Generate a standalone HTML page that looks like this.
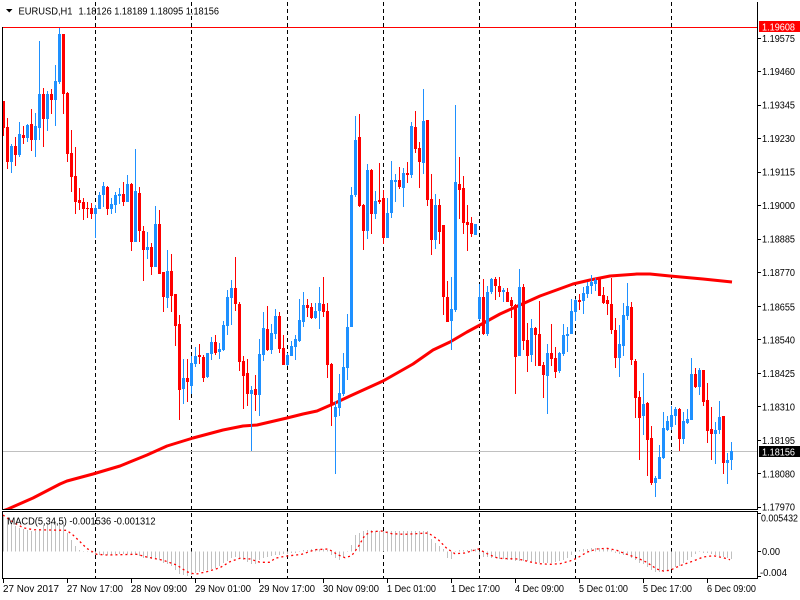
<!DOCTYPE html>
<html><head><meta charset="utf-8"><style>
html,body{margin:0;padding:0;background:#fff;width:800px;height:600px;overflow:hidden}
svg{display:block}
text{font-family:"Liberation Sans",Arial,sans-serif;font-size:10px;fill:#000}
</style></head><body>
<svg width="800" height="600" viewBox="0 0 800 600" xmlns="http://www.w3.org/2000/svg">
<defs>
<clipPath id="cm"><rect x="3" y="2" width="754" height="507"/></clipPath>
</defs>
<rect x="0" y="0" width="800" height="600" fill="#fff"/>

<!-- separators -->
<g stroke="#000" stroke-width="1" stroke-dasharray="4,3" shape-rendering="crispEdges">
<path d="M95.5,2V578M191.5,2V578M287.5,2V578M383.5,2V578M479.5,2V578M575.5,2V578M671.5,2V578"/>
</g>

<!-- horizontal lines -->
<path d="M2,27.5H757" stroke="#ff0000" stroke-width="1" shape-rendering="crispEdges"/>
<path d="M2,451.5H757" stroke="#c0c0c0" stroke-width="1" shape-rendering="crispEdges"/>

<!-- moving average -->
<polyline clip-path="url(#cm)" fill="none" stroke="#ff0000" stroke-width="3" stroke-linejoin="round" points="0,512 8,509 33,498 60,484 67,481 93,474 120,466 147,455 167,446 193,438 223,430 243,426 257,425 287,418 303,414 317,411 333,404 350,396 383,381 413,364 433,350 450,342 467,332 480,325 500,314 520,305 540,296 573,284 590,280 610,276 637,274 650,274 670,276 703,279 732,282"/>

<g shape-rendering="crispEdges" fill="none">
<!-- blue wicks -->
<path stroke="#1e90ff" stroke-width="1" d="M11.5,144V173M19.5,122V157M27.5,124V142M35.5,113V157M39.5,41V140M47.5,91V131M55.5,65V126M59.5,28V84M95.5,205V238M99.5,192V209M103.5,182V207M111.5,198V214M115.5,192V213M119.5,188V204M127.5,175V202M135.5,149V242M147.5,232V259M155.5,206V267M167.5,250V308M183.5,359V404M191.5,356V394M195.5,347V367M207.5,353V378M211.5,337V360M219.5,343V359M223.5,321V351M227.5,290V335M231.5,280V325M251.5,386V451M259.5,339V416M263.5,312V361M271.5,324V354M275.5,309V339M287.5,353V366M291.5,341V356M295.5,335V360M299.5,299V342M303.5,292V327M315.5,303V319M319.5,287V329M335.5,401V474M339.5,374V416M343.5,353V396M347.5,314V380M351.5,187V327M355.5,116V197M367.5,164V239M375.5,191V219M387.5,198V238M391.5,161V218M395.5,174V202M403.5,168V207M411.5,122V178M423.5,89V174M435.5,194V249M451.5,277V350M455.5,105V312M475.5,224V235M479.5,284V320M487.5,286V336M491.5,278V294M503.5,288V302M519.5,269V356M531.5,319V362M547.5,344V414M559.5,352V373M563.5,324V356M567.5,327V352M571.5,299V334M575.5,299V321M583.5,287V314M587.5,282V298M591.5,275V294M595.5,278V291M619.5,325V377M623.5,303V356M627.5,283V320M643.5,373V435M655.5,476V497M659.5,445V479M663.5,412V459M667.5,416V431M671.5,406V430M675.5,407V425M683.5,412V444M687.5,409V424M691.5,358V420M699.5,368V395M715.5,422V464M719.5,401V434M727.5,453V484M731.5,442V470"/>
<!-- blue bodies -->
<path stroke="#1e90ff" stroke-width="3" d="M11.5,146V162M19.5,134V155M27.5,125V138M35.5,126V140M39.5,94V128M47.5,94V119M55.5,81V100M59.5,34V82M95.5,208V214M99.5,195V209M103.5,186V195M111.5,204V209M115.5,195V205M119.5,194V196M127.5,184V202M135.5,191V242M147.5,247V250M155.5,224V267M167.5,271V298M183.5,378V389M191.5,363V386M195.5,356V364M207.5,353V377M211.5,342V354M219.5,349V352M223.5,325V350M227.5,297V326M231.5,288V298M251.5,390V394M259.5,354V395M263.5,328V355M271.5,333V350M275.5,316V334M287.5,355V365M291.5,346V356M295.5,339V347M299.5,320V341M303.5,305V322M315.5,311V318M319.5,303V311M335.5,407V417M339.5,393V408M343.5,367V394M347.5,327V368M351.5,195V327M355.5,140V195M367.5,170V231M375.5,201V214M387.5,213V238M391.5,180V213M395.5,180V182M403.5,173V188M411.5,126V175M423.5,121V163M435.5,205V240M451.5,309V321M455.5,182V310M475.5,224V235M479.5,297V319M487.5,292V334M491.5,279V292M503.5,290V292M519.5,287V356M531.5,328V355M547.5,353V376M559.5,353V371M563.5,335V354M567.5,334V336M571.5,311V334M575.5,300V312M583.5,293V301M587.5,286V294M591.5,282V286M595.5,280V284M619.5,344V358M623.5,315V346M627.5,306V316M643.5,404V416M655.5,478V483M659.5,457V479M663.5,428V458M667.5,421V430M671.5,415V427M675.5,409V416M683.5,421V439M687.5,419V423M691.5,374V420M699.5,370V387M715.5,430V434M719.5,417V430M727.5,460V463M731.5,451V460"/>
<!-- red wicks -->
<path stroke="#ff0000" stroke-width="1" d="M3.5,101V136M7.5,118V169M15.5,137V166M23.5,126V144M31.5,109V151M43.5,88V147M51.5,89V114M63.5,34V114M67.5,92V162M71.5,130V192M75.5,147V214M79.5,188V210M83.5,198V220M87.5,202V218M91.5,203V219M107.5,186V215M123.5,182V206M131.5,183V251M139.5,187V242M143.5,226V281M151.5,243V275M159.5,210V274M163.5,272V312M171.5,254V312M175.5,294V346M179.5,315V420M187.5,359V402M199.5,344V364M203.5,355V382M215.5,335V355M235.5,257V311M239.5,302V371M243.5,356V409M247.5,359V406M255.5,375V411M267.5,306V351M279.5,312V353M283.5,335V365M307.5,299V317M311.5,303V319M323.5,277V317M327.5,303V378M331.5,363V426M359.5,114V207M363.5,204V250M371.5,169V234M379.5,163V204M383.5,190V244M399.5,167V189M407.5,162V183M415.5,111V153M419.5,142V188M427.5,120V206M431.5,174V255M439.5,199V244M443.5,225V315M447.5,281V322M459.5,157V219M463.5,176V234M467.5,205V251M471.5,217V237M483.5,279V335M495.5,277V300M499.5,277V297M507.5,288V302M511.5,297V318M515.5,304V394M523.5,284V350M527.5,323V372M535.5,327V366M539.5,301V366M543.5,362V398M551.5,324V366M555.5,347V378M579.5,294V310M599.5,277V296M603.5,287V304M607.5,296V315M611.5,278V334M615.5,318V368M631.5,302V365M635.5,359V418M639.5,391V460M647.5,402V476M651.5,426V485M679.5,408V451M695.5,368V388M703.5,370V406M707.5,383V443M711.5,407V460M723.5,416V474"/>
<!-- red bodies -->
<path stroke="#ff0000" stroke-width="3" d="M3.5,101V128M7.5,127V162M15.5,146V155M23.5,135V138M31.5,124V140M43.5,94V119M51.5,94V100M63.5,34V94M67.5,93V154M71.5,153V177M75.5,176V202M79.5,200V203M83.5,202V209M87.5,208V209M91.5,208V214M107.5,187V209M123.5,194V202M131.5,184V242M139.5,193V231M143.5,231V250M151.5,247V267M159.5,224V274M163.5,272V297M171.5,271V296M175.5,294V326M179.5,324V390M187.5,378V382M199.5,355V357M203.5,357V378M215.5,342V353M235.5,288V304M239.5,304V362M243.5,361V376M247.5,373V394M255.5,389V395M267.5,329V350M279.5,316V349M283.5,348V365M307.5,305V308M311.5,307V318M323.5,304V312M327.5,311V365M331.5,364V405M359.5,137V206M363.5,205V231M371.5,170V214M379.5,200V202M383.5,198V238M399.5,180V187M407.5,173V175M415.5,127V149M419.5,148V162M427.5,120V200M431.5,199V240M439.5,205V232M443.5,225V297M447.5,297V322M459.5,184V190M463.5,188V223M467.5,222V225M471.5,223V234M483.5,297V334M495.5,279V286M499.5,286V292M507.5,292V302M511.5,300V306M515.5,305V357M523.5,287V341M527.5,340V356M535.5,328V335M539.5,334V366M543.5,365V375M551.5,353V359M555.5,358V372M579.5,300V302M599.5,278V296M603.5,295V303M607.5,300V304M611.5,304V330M615.5,330V358M631.5,307V360M635.5,361V398M639.5,397V418M647.5,403V440M651.5,438V483M679.5,409V439M695.5,374V387M703.5,370V402M707.5,400V431M711.5,429V434M723.5,416V463"/>

<!-- MACD histogram -->
<path stroke="#c0c0c0" stroke-width="1" d="M3.5,551.5V515M7.5,551.5V518M11.5,551.5V525M15.5,551.5V526M19.5,551.5V528M23.5,551.5V529M27.5,551.5V530M31.5,551.5V531M35.5,551.5V531M39.5,551.5V529M43.5,551.5V525M47.5,551.5V523M51.5,551.5V522M55.5,551.5V521M59.5,551.5V520M63.5,551.5V522M67.5,551.5V533M71.5,551.5V540M75.5,551.5V546M79.5,551.5V550M83.5,551.5V551M87.5,551.5V552M91.5,551.5V553M95.5,551.5V555M99.5,551.5V555M103.5,551.5V555M107.5,551.5V555M111.5,551.5V555M115.5,551.5V554M119.5,551.5V554M123.5,551.5V554M127.5,551.5V554M131.5,551.5V555M135.5,551.5V555M139.5,551.5V556M143.5,551.5V558M147.5,551.5V558M151.5,551.5V559M155.5,551.5V559M159.5,551.5V560M163.5,551.5V563M167.5,551.5V564M171.5,551.5V566M175.5,551.5V570M179.5,551.5V574M183.5,551.5V575M187.5,551.5V576M191.5,551.5V575M195.5,551.5V573M199.5,551.5V572M203.5,551.5V571M207.5,551.5V570M211.5,551.5V569M215.5,551.5V568M219.5,551.5V566M223.5,551.5V563M227.5,551.5V561M231.5,551.5V558M235.5,551.5V557M239.5,551.5V558M243.5,551.5V560M247.5,551.5V562M251.5,551.5V564M255.5,551.5V564M259.5,551.5V560M263.5,551.5V558M267.5,551.5V557M271.5,551.5V556M275.5,551.5V555M279.5,551.5V555M283.5,551.5V554M287.5,551.5V554M291.5,551.5V553M295.5,551.5V553M299.5,551.5V552M303.5,551.5V550M307.5,551.5V550M311.5,551.5V549M315.5,551.5V549M319.5,551.5V549M323.5,551.5V549M327.5,551.5V550M331.5,551.5V555M335.5,551.5V558M339.5,551.5V560M343.5,551.5V557M347.5,551.5V552M351.5,551.5V545M355.5,551.5V535M359.5,551.5V533M363.5,551.5V531M367.5,551.5V530M371.5,551.5V530M375.5,551.5V531M379.5,551.5V531M383.5,551.5V531M387.5,551.5V531M391.5,551.5V531M395.5,551.5V531M399.5,551.5V531M403.5,551.5V531M407.5,551.5V531M411.5,551.5V531M415.5,551.5V531M419.5,551.5V531M423.5,551.5V531M427.5,551.5V531M431.5,551.5V539M435.5,551.5V543M439.5,551.5V546M443.5,551.5V549M447.5,551.5V558M451.5,551.5V559M455.5,551.5V551M459.5,551.5V550M463.5,551.5V550M467.5,551.5V550M471.5,551.5V549M475.5,551.5V549M479.5,551.5V555M483.5,551.5V557M487.5,551.5V557M491.5,551.5V558M495.5,551.5V558M499.5,551.5V559M503.5,551.5V559M507.5,551.5V560M511.5,551.5V560M515.5,551.5V561M519.5,551.5V561M523.5,551.5V561M527.5,551.5V561M531.5,551.5V562M535.5,551.5V562M539.5,551.5V563M543.5,551.5V563M547.5,551.5V563M551.5,551.5V563M555.5,551.5V562M559.5,551.5V561M563.5,551.5V560M567.5,551.5V558M571.5,551.5V555M575.5,551.5V552M579.5,551.5V550M583.5,551.5V549M587.5,551.5V549M591.5,551.5V548M595.5,551.5V548M599.5,551.5V548M603.5,551.5V549M607.5,551.5V549M611.5,551.5V550M615.5,551.5V553M619.5,551.5V554M623.5,551.5V555M627.5,551.5V555M631.5,551.5V558M635.5,551.5V560M639.5,551.5V563M643.5,551.5V564M647.5,551.5V567M651.5,551.5V570M655.5,551.5V572M659.5,551.5V572M663.5,551.5V572M667.5,551.5V571M671.5,551.5V569M675.5,551.5V567M679.5,551.5V566M683.5,551.5V563M687.5,551.5V560M691.5,551.5V557M695.5,551.5V554M699.5,551.5V551M703.5,551.5V553M707.5,551.5V553M711.5,551.5V554M715.5,551.5V555M719.5,551.5V556M723.5,551.5V557M727.5,551.5V558M731.5,551.5V559"/>
</g>

<!-- MACD signal dotted -->
<polyline fill="none" stroke="#ff0000" stroke-width="1.3" stroke-dasharray="2,3" points="3,515 13,522 23,527.7 33,529.7 66.7,530.3 73,535 80,541.7 86.7,548.3 96.7,554.3 106.7,555 136.7,554.3 146.7,557 163.3,560.3 176.7,565 186.7,571.7 195.3,574.3 206.7,571.7 220,567.7 230,561.7 240,558.3 250,559 260,562.3 270,562.3 275,558.3 285,556.3 301.7,554.3 315,549.7 328.3,549 338.3,555 345,557.7 351.7,555.7 358.3,546.7 365,535 371.7,531.7 381.7,531 391.7,533.7 405,534.3 428.3,533 438.3,539.7 446.7,548.3 455,553.7 465,553 478.3,549 488.3,554.3 498.3,558.3 518.3,559 531.7,562.3 540,563.7 550,564.3 560,563.7 570,561 576.7,558.3 586.7,552.3 596.7,549 606.7,548.3 616.7,550.3 626.7,554.3 636.7,557.7 646.7,562.3 656.7,569 663.3,571 670,570.3 680,565.7 693.3,561 703.3,557 713.3,555.7 723.3,557.7 730,559.7"/>

<!-- frames -->
<g stroke="#000" stroke-width="1" fill="none" shape-rendering="crispEdges">
<path d="M2.5,27V509.5H757.5V2"/>
<path d="M2.5,511.5H757.5V578.5H2.5Z"/>
<!-- price ticks -->
<path d="M757,38.5H761M757,71.5H761M757,105.5H761M757,138.5H761M757,172.5H761M757,205.5H761M757,239.5H761M757,272.5H761M757,306.5H761M757,339.5H761M757,373.5H761M757,406.5H761M757,440.5H761M757,473.5H761M757,507.5H761"/>
<path d="M757,513.5H761M757,551.5H761M757,576.5H761"/>
<!-- time ticks -->
<path d="M3.5,579V583M67.5,579V583M131.5,579V583M195.5,579V583M259.5,579V583M323.5,579V583M387.5,579V583M451.5,579V583M515.5,579V583M579.5,579V583M643.5,579V583M707.5,579V583"/>
</g>

<!-- title -->
<path d="M6,9H12.5L9.25,12.5Z" fill="#000"/>
<text x="18.5" y="14.5" textLength="54" lengthAdjust="spacingAndGlyphs">EURUSD,H1</text>
<text x="78.5" y="14.5" textLength="140.5" lengthAdjust="spacingAndGlyphs">1.18126 1.18189 1.18095 1.18156</text>

<!-- MACD label -->
<text x="7.5" y="524.5" textLength="148" lengthAdjust="spacingAndGlyphs">MACD(5,34,5) -0.001536 -0.001312</text>

<!-- price labels -->
<g>
<text x="762" y="42" textLength="33" lengthAdjust="spacingAndGlyphs">1.19575</text>
<text x="762" y="75" textLength="33" lengthAdjust="spacingAndGlyphs">1.19460</text>
<text x="762" y="108.5" textLength="33" lengthAdjust="spacingAndGlyphs">1.19345</text>
<text x="762" y="142" textLength="33" lengthAdjust="spacingAndGlyphs">1.19230</text>
<text x="762" y="175.5" textLength="33" lengthAdjust="spacingAndGlyphs">1.19115</text>
<text x="762" y="209" textLength="33" lengthAdjust="spacingAndGlyphs">1.19000</text>
<text x="762" y="242.5" textLength="33" lengthAdjust="spacingAndGlyphs">1.18885</text>
<text x="762" y="276" textLength="33" lengthAdjust="spacingAndGlyphs">1.18770</text>
<text x="762" y="310.5" textLength="33" lengthAdjust="spacingAndGlyphs">1.18655</text>
<text x="762" y="343.5" textLength="33" lengthAdjust="spacingAndGlyphs">1.18540</text>
<text x="762" y="377" textLength="33" lengthAdjust="spacingAndGlyphs">1.18425</text>
<text x="762" y="410.5" textLength="33" lengthAdjust="spacingAndGlyphs">1.18310</text>
<text x="762" y="444" textLength="33" lengthAdjust="spacingAndGlyphs">1.18195</text>
<text x="762" y="477.5" textLength="33" lengthAdjust="spacingAndGlyphs">1.18080</text>
<text x="762" y="510.5" textLength="33" lengthAdjust="spacingAndGlyphs">1.17970</text>
</g>
<rect x="759" y="21" width="41" height="11" fill="#ff0000"/>
<text x="762" y="30.5" textLength="33" lengthAdjust="spacingAndGlyphs" style="fill:#fff">1.19608</text>
<rect x="759" y="446" width="41" height="11" fill="#000"/>
<text x="762" y="455.5" textLength="33" lengthAdjust="spacingAndGlyphs" style="fill:#fff">1.18156</text>

<!-- MACD axis labels -->
<text x="761" y="521.5" textLength="37" lengthAdjust="spacingAndGlyphs">0.005432</text>
<text x="762" y="555" textLength="18" lengthAdjust="spacingAndGlyphs">0.00</text>
<text x="760" y="576" textLength="27" lengthAdjust="spacingAndGlyphs">-0.004</text>

<!-- time labels -->
<g>
<text x="3" y="592" textLength="56" lengthAdjust="spacingAndGlyphs">27 Nov 2017</text>
<text x="67" y="592" textLength="56" lengthAdjust="spacingAndGlyphs">27 Nov 17:00</text>
<text x="131" y="592" textLength="56" lengthAdjust="spacingAndGlyphs">28 Nov 09:00</text>
<text x="195" y="592" textLength="56" lengthAdjust="spacingAndGlyphs">29 Nov 01:00</text>
<text x="259" y="592" textLength="56" lengthAdjust="spacingAndGlyphs">29 Nov 17:00</text>
<text x="323" y="592" textLength="56" lengthAdjust="spacingAndGlyphs">30 Nov 09:00</text>
<text x="387" y="592" textLength="49" lengthAdjust="spacingAndGlyphs">1 Dec 01:00</text>
<text x="451" y="592" textLength="49" lengthAdjust="spacingAndGlyphs">1 Dec 17:00</text>
<text x="515" y="592" textLength="49" lengthAdjust="spacingAndGlyphs">4 Dec 09:00</text>
<text x="579" y="592" textLength="49" lengthAdjust="spacingAndGlyphs">5 Dec 01:00</text>
<text x="643" y="592" textLength="49" lengthAdjust="spacingAndGlyphs">5 Dec 17:00</text>
<text x="707" y="592" textLength="49" lengthAdjust="spacingAndGlyphs">6 Dec 09:00</text>
</g>
</svg>
</body></html>
